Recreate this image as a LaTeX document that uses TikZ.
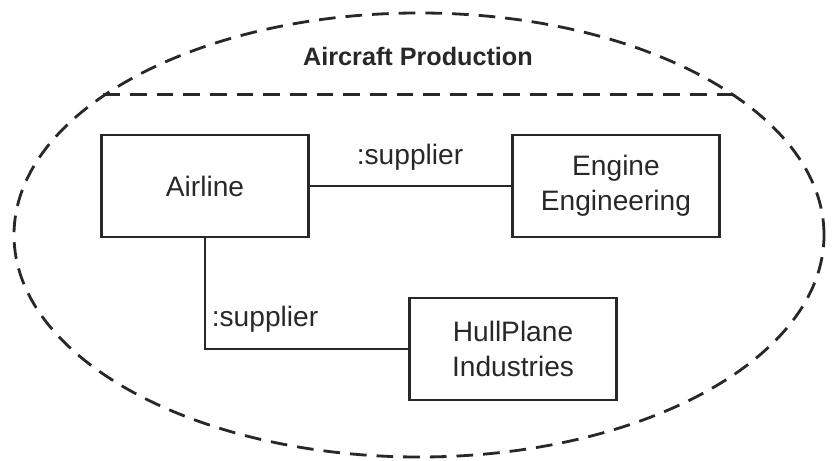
\documentclass[tikz,border=0pt]{standalone}
\usepackage{fontspec}
\setmainfont{Liberation Sans}
\usetikzlibrary{positioning,shapes.geometric}
\definecolor{ink}{RGB}{40,40,40}
\tikzset{
  every picture/.style={line width=2.1pt,draw=ink,text=ink},
  obj/.style={draw,rectangle,minimum width=6.21cm,minimum height=3.06cm,align=center,font=\fontsize{24}{30}\selectfont},
  lbl/.style={font=\fontsize{24}{28}\selectfont,inner sep=1pt},
  ttl/.style={font=\bfseries\fontsize{21.5}{25}\selectfont,inner sep=1pt},
  frame/.style={draw,ellipse,dash pattern=on 0.5cm off 0.3cm,line width=2.4pt,minimum width=24.3cm,minimum height=13.32cm,inner sep=0},
  sep/.style={dash pattern=on 0.5cm off 0.3cm,line width=2.4pt},
}

\begin{document}
\begin{tikzpicture}[x=0.03cm,y=-0.03cm]
\useasboundingbox (0,0) rectangle (836,461);
% collaboration frame
\node[frame] (prod) at (419,235) {};
\draw[sep] (prod.156) -- (prod.24);
\node[ttl] (title) at (418,57) {Aircraft Production};
% parts
\node[obj] (airline) at (205,186) {Airline};
\node[obj] (engine) at (616,186) {Engine\\Engineering};
\node[obj] (hull) at (513,349) {HullPlane\\Industries};
% connectors
\draw (airline.east) -- (engine.west);
\draw (airline.south) |- (hull.west);
\node[lbl,anchor=base] (sup1) at (410,165) {:supplier};
\node[lbl,anchor=base] (sup2) at (265,327) {:supplier};
\end{tikzpicture}
\end{document}
